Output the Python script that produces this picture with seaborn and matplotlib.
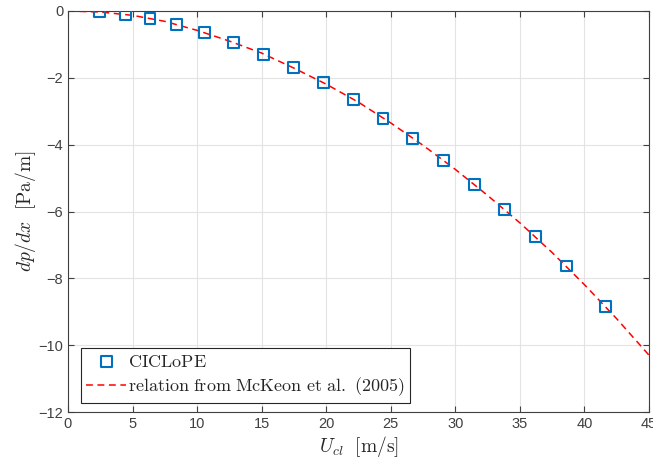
import matplotlib
matplotlib.use("Agg")
import matplotlib.pyplot as plt
import seaborn as sns
import pandas as pd

# Data
u_cl = [2.45, 4.47, 6.35, 8.42, 10.56, 12.80, 15.13, 17.45, 19.78, 22.10,
        24.40, 26.70, 29.07, 31.45, 33.80, 36.20, 38.60, 41.60]
dpdx = [-0.03, -0.10, -0.23, -0.40, -0.65, -0.94, -1.29, -1.70, -2.15, -2.64,
        -3.22, -3.82, -4.46, -5.18, -5.93, -6.76, -7.63, -8.83]

line_u = [0, 2.5, 5, 7.5, 10, 12.5, 15, 17.5, 20, 22.5, 25, 27.5, 30, 32.5,
          35, 37.5, 40, 42.5, 45]
line_dpdx = [0, -0.03, -0.13, -0.31, -0.58, -0.90, -1.26, -1.71, -2.19, -2.73,
             -3.35, -4.02, -4.74, -5.52, -6.34, -7.23, -8.19, -9.21, -10.30]

xticks = [0, 5, 10, 15, 20, 25, 30, 35, 40, 45]
yticks = [-12, -10, -8, -6, -4, -2, 0]

sns.set_style("white")
plt.rcParams["font.family"] = ["Liberation Sans", "DejaVu Sans"]
plt.rcParams["mathtext.fontset"] = "cm"

fig = plt.figure(figsize=(6.53, 4.68), dpi=100)
ax = fig.add_axes([68 / 653, 1 - 412 / 468, (649 - 68) / 653, (412 - 11) / 468])

df_pts = pd.DataFrame({"u": u_cl, "dp": dpdx})
df_line = pd.DataFrame({"u": line_u, "dp": line_dpdx})

blue = "#0072BD"
sns.scatterplot(data=df_pts, x="u", y="dp", ax=ax, marker="s", s=62,
                facecolors="none", edgecolor=blue, linewidth=1.5,
                label=r"$\mathrm{CICLoPE}$", zorder=3)
sns.lineplot(data=df_line, x="u", y="dp", ax=ax, color="#FF0000",
             linestyle=(0, (4.5, 3)), linewidth=1.1,
             label=r"$\mathrm{relation\ from\ McKeon\ et\ al.\ (2005)}$", zorder=2)

ax.set_xlim(0, 45)
ax.set_ylim(-12, 0)
ax.set_xticks(xticks)
ax.set_yticks(yticks)
ax.grid(True, color="#e3e3e3", linewidth=0.8)
ax.set_axisbelow(True)
for sp in ax.spines.values():
    sp.set_color("#404040")
    sp.set_linewidth(0.8)
ax.tick_params(direction="in", length=4, width=0.8, colors="#404040",
               labelsize=10.5, top=True, right=True, bottom=True, left=True,
               labelcolor="#404040")

ax.set_xlabel(r"$U_{cl}\ \ \mathrm{[m/s]}$", fontsize=14, color="#262626", labelpad=2)
ax.set_ylabel(r"$dp/dx\ \ \mathrm{[Pa/m]}$", fontsize=14, color="#262626", labelpad=0)

leg = ax.legend(loc="lower left", bbox_to_anchor=(0.022, 0.022), fontsize=13,
                frameon=True, fancybox=False, edgecolor="#262626",
                framealpha=1, borderpad=0.3, handlelength=2.2,
                handletextpad=0.1, borderaxespad=0, labelspacing=0.25)
leg.get_frame().set_linewidth(0.8)

fig.savefig("out.png", dpi=100)
